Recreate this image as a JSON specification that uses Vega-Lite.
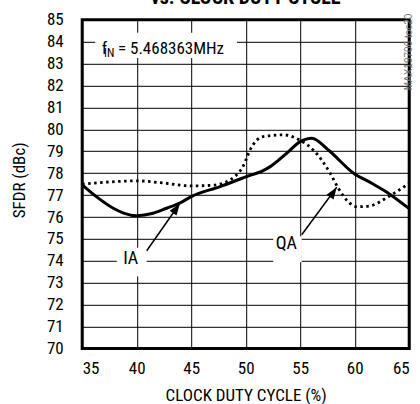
{
  "$schema": "https://vega.github.io/schema/vega-lite/v6.json",
  "width": 327,
  "height": 328.7,
  "autosize": {"type": "none"},
  "padding": {"left": 82.2, "top": 19.8, "right": 10.8, "bottom": 55.5},
  "background": "white",
  "datasets": {
    "ia": [
      {"clock": 35.0, "sfdr": 77.47},
      {"clock": 36.3, "sfdr": 76.93},
      {"clock": 37.85, "sfdr": 76.4},
      {"clock": 38.8, "sfdr": 76.18},
      {"clock": 40.0, "sfdr": 76.06},
      {"clock": 41.5, "sfdr": 76.17},
      {"clock": 42.75, "sfdr": 76.4},
      {"clock": 44.0, "sfdr": 76.65},
      {"clock": 45.0, "sfdr": 76.93},
      {"clock": 47.65, "sfdr": 77.39},
      {"clock": 50.1, "sfdr": 77.85},
      {"clock": 51.6, "sfdr": 78.12},
      {"clock": 52.25, "sfdr": 78.3},
      {"clock": 53.76, "sfdr": 78.91},
      {"clock": 55.0, "sfdr": 79.44},
      {"clock": 56.07, "sfdr": 79.6},
      {"clock": 57.58, "sfdr": 79.06},
      {"clock": 59.9, "sfdr": 78.0},
      {"clock": 61.56, "sfdr": 77.54},
      {"clock": 63.08, "sfdr": 77.09},
      {"clock": 65.0, "sfdr": 76.38}
    ],
    "qa": [
      {"clock": 35.0, "sfdr": 77.5},
      {"clock": 37.5, "sfdr": 77.6},
      {"clock": 40.0, "sfdr": 77.65},
      {"clock": 42.5, "sfdr": 77.55},
      {"clock": 45.0, "sfdr": 77.42},
      {"clock": 47.0, "sfdr": 77.45},
      {"clock": 49.0, "sfdr": 77.85},
      {"clock": 49.8, "sfdr": 78.35},
      {"clock": 50.4, "sfdr": 79.06},
      {"clock": 51.6, "sfdr": 79.67},
      {"clock": 53.45, "sfdr": 79.75},
      {"clock": 55.0, "sfdr": 79.5},
      {"clock": 56.2, "sfdr": 79.06},
      {"clock": 57.75, "sfdr": 78.0},
      {"clock": 58.5, "sfdr": 77.31},
      {"clock": 59.4, "sfdr": 76.7},
      {"clock": 60.2, "sfdr": 76.47},
      {"clock": 61.3, "sfdr": 76.5},
      {"clock": 63.1, "sfdr": 76.93},
      {"clock": 65.0, "sfdr": 77.54}
    ],
    "boxes": [
      {"name": "fin", "x": 36.2, "x2": 49.2, "y": 83.26, "y2": 84.41},
      {"name": "IA", "x": 38.17, "x2": 40.92, "y": 73.29, "y2": 74.6},
      {"name": "QA", "x": 52.53, "x2": 55.14, "y": 73.94, "y2": 75.12}
    ],
    "arrows": [
      {"arrow": "IA", "end": "tail", "clock": 40.92, "sfdr": 74.46},
      {"arrow": "IA", "end": "tip", "clock": 43.97, "sfdr": 76.63},
      {"arrow": "QA", "end": "tail", "clock": 55.14, "sfdr": 75.19},
      {"arrow": "QA", "end": "tip", "clock": 58.35, "sfdr": 77.36}
    ],
    "notes": [
      {"role": "title", "note": "vs. CLOCK DUTY CYCLE", "clock": 50, "sfdr": 85.72},
      {"role": "curve", "note": "IA", "clock": 39.45, "sfdr": 74.09},
      {"role": "curve", "note": "QA", "clock": 53.73, "sfdr": 74.78},
      {"role": "big", "note": "f", "clock": 36.79, "sfdr": 83.45},
      {"role": "sub", "note": "IN", "clock": 37.0, "sfdr": 83.32},
      {"role": "big", "note": "= 5.468363MHz", "clock": 38.28, "sfdr": 83.45},
      {"role": "code", "note": "MAX19706 toc20", "clock": 65, "sfdr": 83.35}
    ]
  },
  "encoding": {
    "x": {
      "field": "clock",
      "type": "quantitative",
      "scale": {"domain": [35, 65], "nice": false, "zero": false},
      "axis": {
        "title": "CLOCK DUTY CYCLE (%)",
        "values": [35, 40, 45, 50, 55, 60, 65],
        "labelPadding": 12,
        "titlePadding": 11
      }
    },
    "y": {
      "field": "sfdr",
      "type": "quantitative",
      "scale": {"domain": [70, 85], "nice": false, "zero": false},
      "axis": {
        "title": "SFDR (dBc)",
        "values": [70, 71, 72, 73, 74, 75, 76, 77, 78, 79, 80, 81, 82, 83, 84, 85],
        "labelPadding": 19,
        "titleX": -63,
        "titleY": 160,
        "titleAlign": "center",
        "titleBaseline": "middle"
      }
    }
  },
  "layer": [
    {
      "data": {"name": "boxes"},
      "mark": {"type": "rect", "fill": "white", "stroke": null},
      "encoding": {
        "x": {"field": "x", "type": "quantitative"},
        "x2": {"field": "x2"},
        "y": {"field": "y", "type": "quantitative"},
        "y2": {"field": "y2"}
      }
    },
    {
      "data": {"name": "qa"},
      "mark": {"type": "line", "color": "black", "strokeWidth": 2.8, "strokeDash": [2.5, 3.5], "interpolate": "monotone"}
    },
    {
      "data": {"name": "ia"},
      "mark": {"type": "line", "color": "black", "strokeWidth": 3, "interpolate": "monotone"}
    },
    {
      "data": {"name": "arrows"},
      "mark": {"type": "line", "color": "black", "strokeWidth": 1.5},
      "encoding": {"detail": {"field": "arrow"}}
    },
    {
      "data": {"name": "arrows"},
      "transform": [{"filter": "datum.end == 'tip'"}, {"filter": "datum.arrow == 'IA'"}],
      "mark": {"type": "point", "shape": "M0,0L0.7,2L-0.7,2Z", "angle": 34.9, "size": 144, "filled": true, "fill": "black", "stroke": null, "fillOpacity": 1},
      "encoding": {}
    },
    {
      "data": {"name": "arrows"},
      "transform": [{"filter": "datum.end == 'tip'"}, {"filter": "datum.arrow == 'QA'"}],
      "mark": {"type": "point", "shape": "M0,0L0.7,2L-0.7,2Z", "angle": 33.8, "size": 144, "filled": true, "fill": "black", "stroke": null, "fillOpacity": 1},
      "encoding": {}
    },
    {
      "data": {"name": "notes"},
      "transform": [{"filter": "datum.role == 'title'"}],
      "mark": {"type": "text", "fontSize": 20, "fontWeight": "bold", "align": "center", "baseline": "alphabetic", "color": "black"},
      "encoding": {"text": {"field": "note"}}
    },
    {
      "data": {"name": "notes"},
      "transform": [{"filter": "datum.role == 'curve'"}],
      "mark": {"type": "text", "fontSize": 18, "align": "center", "baseline": "middle", "color": "black"},
      "encoding": {"text": {"field": "note"}}
    },
    {
      "data": {"name": "notes"},
      "transform": [{"filter": "datum.role == 'big'"}],
      "mark": {"type": "text", "fontSize": 17, "align": "left", "baseline": "alphabetic", "color": "black"},
      "encoding": {"text": {"field": "note"}}
    },
    {
      "data": {"name": "notes"},
      "transform": [{"filter": "datum.role == 'sub'"}],
      "mark": {"type": "text", "fontSize": 12, "align": "left", "baseline": "alphabetic", "color": "black"},
      "encoding": {"text": {"field": "note"}}
    },
    {
      "data": {"name": "notes"},
      "transform": [{"filter": "datum.role == 'code'"}],
      "mark": {"type": "text", "font": "Liberation Sans, sans-serif", "fontSize": 10, "color": "#777777", "angle": 270, "align": "center", "baseline": "middle", "dx": 4},
      "encoding": {"text": {"field": "note"}}
    }
  ],
  "config": {
    "font": "Roboto Condensed, Liberation Sans, sans-serif",
    "view": {"stroke": "black", "strokeWidth": 3},
    "axis": {
      "domain": false,
      "ticks": false,
      "tickSize": 0,
      "grid": true,
      "gridColor": "black",
      "gridOpacity": 1,
      "gridWidth": 1,
      "labelFont": "Roboto Condensed, Liberation Sans, sans-serif",
      "labelFontSize": 17,
      "labelColor": "black",
      "titleFont": "Roboto Condensed, Liberation Sans, sans-serif",
      "titleFontSize": 17,
      "titleFontWeight": "normal",
      "titleColor": "black"
    },
    "text": {"color": "black", "font": "Roboto Condensed, Liberation Sans, sans-serif"}
  }
}
